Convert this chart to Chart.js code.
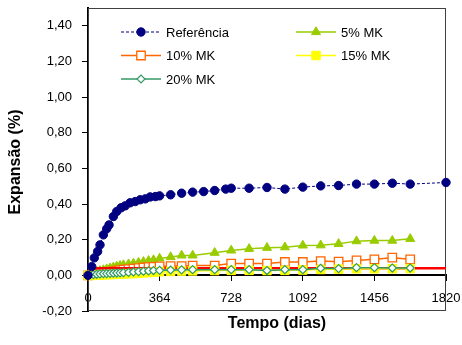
<!DOCTYPE html>
<html>
<head>
<meta charset="utf-8">
<script src="https://cdn.jsdelivr.net/npm/chart.js@4.4.1/dist/chart.umd.min.js"></script>
<style>
  html, body { margin: 0; padding: 0; background: #fff; }
  #wrap { width: 462px; height: 345px; }
</style>
</head>
<body>
<div id="wrap"><canvas id="expChart" width="462" height="345"></canvas></div>
<script>
// idades de leitura (dias) e expansões (%)
const refDays = [0, 19, 32, 49, 61, 78, 95, 107, 129, 146, 168, 189, 214, 240, 265, 291, 316, 343, 364,
  420, 476, 532, 588, 644, 700, 728, 819, 910, 1001, 1092, 1183, 1274, 1365, 1456, 1547, 1638, 1820];
const refValues = [0.000, 0.049, 0.098, 0.134, 0.171, 0.227, 0.261, 0.283, 0.330, 0.358, 0.379, 0.390, 0.407,
  0.414, 0.424, 0.429, 0.440, 0.442, 0.446, 0.452, 0.461, 0.467, 0.470, 0.476, 0.484, 0.489, 0.489, 0.493,
  0.484, 0.495, 0.502, 0.504, 0.512, 0.512, 0.517, 0.512, 0.521];

const mkDays = [0, 27, 44, 61, 78, 95, 112, 129, 146, 163, 180, 206, 231, 257, 282, 308, 333, 364,
  420, 476, 532, 644, 728, 819, 910, 1001, 1092, 1183, 1274, 1365, 1456, 1547, 1638];
const mk5Values = [0.000, 0.015, 0.020, 0.025, 0.030, 0.035, 0.040, 0.045, 0.050, 0.054, 0.058, 0.063, 0.067,
  0.072, 0.076, 0.082, 0.086, 0.095, 0.103, 0.112, 0.112, 0.127, 0.140, 0.149, 0.155, 0.158, 0.168, 0.169,
  0.177, 0.192, 0.195, 0.195, 0.205];
const mk10Values = [0.000, 0.005, 0.008, 0.011, 0.014, 0.017, 0.020, 0.023, 0.026, 0.029, 0.032, 0.035, 0.038,
  0.041, 0.044, 0.046, 0.048, 0.050, 0.052, 0.052, 0.055, 0.055, 0.066, 0.066, 0.066, 0.075, 0.075, 0.080,
  0.077, 0.084, 0.090, 0.099, 0.090];
const mk15Values = [0.000, 0.000, 0.001, 0.002, 0.003, 0.004, 0.005, 0.005, 0.006, 0.007, 0.008, 0.009, 0.010,
  0.012, 0.014, 0.016, 0.018, 0.020, 0.022, 0.024, 0.025, 0.027, 0.028, 0.028, 0.027, 0.028, 0.030, 0.033,
  0.035, 0.037, 0.037, 0.037, 0.038];
const mk20Values = [0.000, 0.004, 0.006, 0.008, 0.009, 0.010, 0.011, 0.012, 0.013, 0.014, 0.015, 0.017, 0.019,
  0.021, 0.023, 0.025, 0.027, 0.028, 0.030, 0.031, 0.032, 0.032, 0.032, 0.032, 0.027, 0.032, 0.032, 0.040,
  0.038, 0.043, 0.043, 0.041, 0.041];

// linha de limite
const limitDays = [0, 1820];
const limitValue = 0.04;

const xTicks = [0, 364, 728, 1092, 1456, 1820];
const yTicks = [-0.2, 0, 0.2, 0.4, 0.6, 0.8, 1.0, 1.2, 1.4];

const FONT = '"Liberation Sans", Arial, sans-serif';

function toPoints(days, values) {
  return days.map((d, i) => ({ x: d, y: values[i] }));
}

function formatComma(v) {
  if (Math.abs(v) < 1e-9) v = 0;
  return v.toFixed(2).replace('.', ',');
}

function drawMarker(ctx, style, x, y, r, fill, stroke, lw) {
  ctx.beginPath();
  if (style === 'circle') {
    ctx.arc(x, y, r, 0, Math.PI * 2);
  } else if (style === 'triangle') {
    for (let k = 0; k < 3; k++) {
      const a = -Math.PI / 2 + k * 2 * Math.PI / 3;
      const px = x + Math.cos(a) * r, py = y + Math.sin(a) * r;
      k === 0 ? ctx.moveTo(px, py) : ctx.lineTo(px, py);
    }
  } else if (style === 'rect') {
    const s = Math.SQRT1_2 * r;
    ctx.rect(x - s, y - s, 2 * s, 2 * s);
  } else if (style === 'rectRot') {
    ctx.moveTo(x - r, y); ctx.lineTo(x, y - r); ctx.lineTo(x + r, y); ctx.lineTo(x, y + r);
  }
  ctx.closePath();
  ctx.fillStyle = fill;
  ctx.fill();
  ctx.lineWidth = lw;
  ctx.strokeStyle = stroke;
  ctx.stroke();
}

// moldura da área do gráfico
const framePlugin = {
  id: 'frame',
  beforeDatasetsDraw(chart) {
    const { ctx, chartArea: a } = chart;
    ctx.save();
    ctx.strokeStyle = '#404040';
    ctx.lineWidth = 1;
    ctx.strokeRect(a.left + 0.5, a.top + 0.5, a.right - a.left - 1, a.bottom - a.top - 1);
    ctx.restore();
  }
};

// títulos dos eixos e legenda em duas colunas
const decorPlugin = {
  id: 'decor',
  afterDraw(chart) {
    const ctx = chart.ctx;
    ctx.save();
    ctx.fillStyle = '#000';
    ctx.font = 'bold 16px ' + FONT;
    ctx.textAlign = 'center';
    ctx.textBaseline = 'middle';
    ctx.fillText('Tempo (dias)', 277, 324);
    ctx.save();
    ctx.translate(16, 162);
    ctx.rotate(-Math.PI / 2);
    ctx.fillText('Expansão (%)', 0, 0);
    ctx.restore();

    const cols = [121, 296];
    const rows = [32, 55.5, 79];
    const items = chart.data.datasets.filter(ds => ds.inLegend !== false);
    ctx.font = '13px ' + FONT;
    ctx.textAlign = 'left';
    items.forEach((ds, i) => {
      const x = cols[i % 2];
      const y = rows[Math.floor(i / 2)];
      ctx.save();
      ctx.strokeStyle = ds.borderColor;
      ctx.lineWidth = ds.borderWidth;
      ctx.setLineDash(ds.borderDash || []);
      ctx.beginPath();
      ctx.moveTo(x, y);
      ctx.lineTo(x + 40, y);
      ctx.stroke();
      ctx.setLineDash([]);
      drawMarker(ctx, ds.pointStyle, x + 20, y, ds.pointRadius, ds.backgroundColor, ds.borderColor, ds.pointBorderWidth);
      ctx.restore();
      ctx.fillStyle = '#000';
      ctx.fillText(ds.label, x + 45, y + 1);
    });
    ctx.restore();
  }
};

const ctx = document.getElementById('expChart').getContext('2d');
new Chart(ctx, {
  type: 'line',
  data: {
    datasets: [
      {
        label: 'Referência',
        data: toPoints(refDays, refValues),
        borderColor: '#000080',
        backgroundColor: '#000080',
        borderWidth: 1,
        borderDash: [3, 2],
        pointStyle: 'circle',
        pointRadius: 4.2,
        pointBorderWidth: 1,
        order: 1
      },
      {
        label: '5% MK',
        data: toPoints(mkDays, mk5Values),
        borderColor: '#99CC00',
        backgroundColor: '#99CC00',
        borderWidth: 1.5,
        pointStyle: 'triangle',
        pointRadius: 5.2,
        pointBorderWidth: 1,
        order: 6
      },
      {
        label: '10% MK',
        data: toPoints(mkDays, mk10Values),
        borderColor: '#FF6600',
        backgroundColor: '#FFFFFF',
        borderWidth: 1.5,
        pointStyle: 'rect',
        pointRadius: 6,
        pointBorderWidth: 1.3,
        order: 5
      },
      {
        label: '15% MK',
        data: toPoints(mkDays, mk15Values),
        borderColor: '#FFFF00',
        backgroundColor: '#FFFF00',
        borderWidth: 1.5,
        pointStyle: 'rect',
        pointRadius: 6,
        pointBorderWidth: 1,
        order: 3
      },
      {
        label: '20% MK',
        data: toPoints(mkDays, mk20Values),
        borderColor: '#339966',
        backgroundColor: '#FFFFFF',
        borderWidth: 1.5,
        pointStyle: 'rectRot',
        pointRadius: 4,
        pointBorderWidth: 1.2,
        order: 2
      },
      {
        label: 'Limite',
        data: toPoints(limitDays, limitDays.map(() => limitValue)),
        borderColor: '#FF0000',
        borderWidth: 2.5,
        pointRadius: 0,
        inLegend: false,
        order: 4
      }
    ]
  },
  options: {
    responsive: false,
    animation: false,
    devicePixelRatio: 1,
    clip: false,
    layout: { padding: { top: 8, right: 16, bottom: 34, left: 0 } },
    scales: {
      x: {
        type: 'linear',
        position: { y: 0 },
        min: 0,
        max: 1820,
        afterBuildTicks: scale => { scale.ticks = xTicks.map(v => ({ value: v })); },
        afterFit: scale => { scale.paddingLeft = 0; scale.paddingRight = 0; },
        ticks: {
          autoSkip: false,
          maxRotation: 0,
          padding: 10,
          color: '#000',
          font: { family: FONT, size: 13 },
          callback: v => String(v)
        },
        grid: { drawOnChartArea: false, drawTicks: true, tickLength: 5, tickColor: '#000' },
        border: { display: true, color: '#000', width: 2 }
      },
      y: {
        type: 'linear',
        min: -0.2,
        max: 1.5,
        afterBuildTicks: scale => { scale.ticks = yTicks.map(v => ({ value: v })); },
        afterFit: scale => { scale.width = 88; scale.paddingTop = 0; scale.paddingBottom = 0; },
        ticks: {
          padding: 10,
          color: '#000',
          font: { family: FONT, size: 13 },
          callback: v => formatComma(v)
        },
        grid: { drawOnChartArea: false, drawTicks: true, tickLength: 6, tickColor: '#000' },
        border: { display: true, color: '#000', width: 2 }
      }
    },
    plugins: {
      legend: { display: false },
      tooltip: { enabled: false }
    }
  },
  plugins: [framePlugin, decorPlugin]
});
</script>
</body>
</html>
